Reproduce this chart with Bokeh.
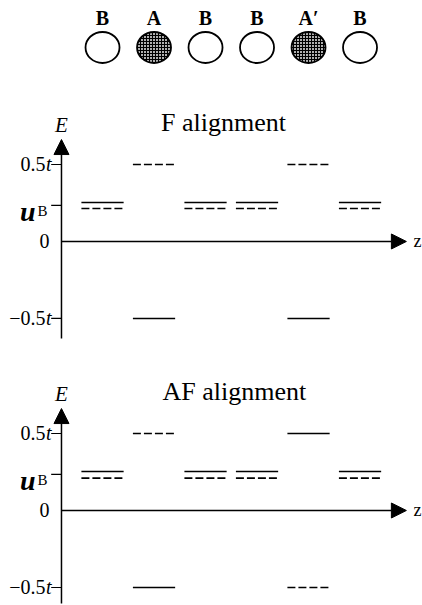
from bokeh.plotting import figure
from bokeh.layouts import column
from bokeh.models import Range1d, Arrow, NormalHead
from bokeh.core.properties import value
from bokeh.embed import file_html
from bokeh.resources import INLINE

# ---------------- data ----------------
site_pos = [1, 2, 3, 4, 5, 6]
site_labels = ["B", "A", "B", "B", "A\u2032", "B"]
site_filled = [False, True, False, False, True, False]

# energy levels (units of t) per panel: site position, energy, line style
f_site = [1, 1, 2, 2, 3, 3, 4, 4, 5, 5, 6, 6]
f_energy = [0.253, 0.214, 0.5, -0.5, 0.253, 0.214, 0.253, 0.214, 0.5, -0.5, 0.253, 0.214]
f_style = ["solid", "dashed", "dashed", "solid", "solid", "dashed",
           "solid", "dashed", "dashed", "solid", "solid", "dashed"]

af_site = [1, 1, 2, 2, 3, 3, 4, 4, 5, 5, 6, 6]
af_energy = [0.253, 0.21, 0.5, -0.5, 0.253, 0.21, 0.253, 0.21, 0.5, -0.5, 0.253, 0.21]
af_style = ["solid", "dashed", "dashed", "solid", "solid", "dashed",
            "solid", "dashed", "solid", "dashed", "solid", "dashed"]

tick_values = [0.5, 0.234, 0.0, -0.5]
panel_titles = ["F alignment", "AF alignment"]

# ---------------- style constants ----------------
SERIF = value("Liberation Serif")
W = 422
X_RANGE = (-0.981, 7.213)
AXIS_X = 0.203
Z_TIP = 6.9
HALF_W = 0.41
TICK_LEN = 0.2


def base_fig(height, y0, y1):
    p = figure(width=W, height=height, x_range=Range1d(*X_RANGE),
               y_range=Range1d(y0, y1), output_backend="svg",
               toolbar_location=None, min_border=0,
               x_axis_location=None, y_axis_location=None)
    p.grid.visible = False
    p.outline_line_color = None
    p.background_fill_color = "white"
    p.border_fill_color = "white"
    return p


# ---------------- top: atoms ----------------
top = base_fig(85, -1.267, 1.567)
open_x = [x for x, f in zip(site_pos, site_filled) if not f]
fill_x = [x for x, f in zip(site_pos, site_filled) if f]
top.ellipse(x=open_x, y=[0] * len(open_x), width=34, height=31,
            width_units="screen", height_units="screen",
            fill_color="white", line_color="black", line_width=1.8)
top.ellipse(x=fill_x, y=[0] * len(fill_x), width=34, height=31,
            width_units="screen", height_units="screen",
            fill_color="#b0b0b0", hatch_pattern="+", hatch_color="black",
            hatch_scale=3, hatch_weight=1,
            line_color="black", line_width=1.8)
top.text(x=site_pos, y=[1] * 6, text=site_labels, text_font=SERIF,
         text_font_style="bold", text_font_size="20px",
         text_align="center", text_baseline="middle", text_color="black")


def panel(height, y0, y1, title, title_x, sites, energies, styles, y_bottom):
    p = base_fig(height, y0, y1)
    # axes with arrows
    p.add_layout(Arrow(end=NormalHead(size=15, fill_color="black", fill_alpha=1.0,
                                      line_color="black", line_width=1),
                       x_start=AXIS_X, y_start=y_bottom, x_end=AXIS_X, y_end=0.662,
                       line_width=1.5, line_color="black"))
    p.add_layout(Arrow(end=NormalHead(size=15, fill_color="black", fill_alpha=1.0,
                                      line_color="black", line_width=1),
                       x_start=AXIS_X, y_start=0, x_end=Z_TIP, y_end=0,
                       line_width=1.5, line_color="black"))
    # ticks (not at zero)
    tv = [v for v in tick_values if v != 0]
    p.segment(x0=[AXIS_X - TICK_LEN] * len(tv), x1=[AXIS_X] * len(tv), y0=tv, y1=tv,
              line_color="black", line_width=1.2)
    # tick labels
    pos = [v for v in tick_values if abs(v) == 0.5]
    num = ["0.5" if v > 0 else "\u22120.5" for v in pos]
    p.text(x=[AXIS_X] * len(pos), y=pos, text=num, x_offset=-16,
           text_font=SERIF, text_font_size="20px", text_align="right",
           text_baseline="middle")
    p.text(x=[AXIS_X] * len(pos), y=pos, text=["t"] * len(pos), x_offset=-10,
           text_font=SERIF, text_font_style="italic", text_font_size="20px",
           text_align="right", text_baseline="middle")
    p.text(x=[AXIS_X], y=[0.0], text=["0"], x_offset=-12,
           text_font=SERIF, text_font_size="20px", text_align="right",
           text_baseline="middle")
    ub = [v for v in tick_values if 0 < v < 0.5]
    p.text(x=[AXIS_X], y=ub, text=["u"], x_offset=-26, y_offset=6,
           text_font=SERIF, text_font_style="bold italic", text_font_size="28px",
           text_align="right", text_baseline="alphabetic")
    p.text(x=[AXIS_X], y=ub, text=["B"], x_offset=-14, y_offset=6,
           text_font=SERIF, text_font_size="15px",
           text_align="right", text_baseline="alphabetic")
    # axis labels
    p.text(x=[AXIS_X], y=[0.755], text=["E"], text_font=SERIF,
           text_font_style="italic", text_font_size="21px",
           text_align="center", text_baseline="middle")
    p.text(x=[Z_TIP], y=[0.0], text=["z"], x_offset=7, text_font=SERIF,
           text_font_size="18px", text_align="left", text_baseline="middle")
    # title
    p.text(x=[title_x], y=[0.77], text=[title], text_font=SERIF,
           text_font_size="26px", text_align="center", text_baseline="middle")
    # levels
    for style, dash in (("solid", "solid"), ("dashed", "8 3")):
        xs = [s for s, st in zip(sites, styles) if st == style]
        es = [e for e, st in zip(energies, styles) if st == style]
        p.segment(x0=[x - HALF_W for x in xs], x1=[x + HALF_W for x in xs],
                  y0=es, y1=es, line_color="black", line_width=1.6,
                  line_dash=dash)
    return p


pf = panel(269, -0.734, 1.013, panel_titles[0], 3.35, f_site, f_energy, f_style, -0.63)
paf = panel(251, -0.617, 1.013, panel_titles[1], 3.56, af_site, af_energy, af_style, -0.604)

layout = column(top, pf, paf)
open("out.html", "w").write(file_html(layout, INLINE))
